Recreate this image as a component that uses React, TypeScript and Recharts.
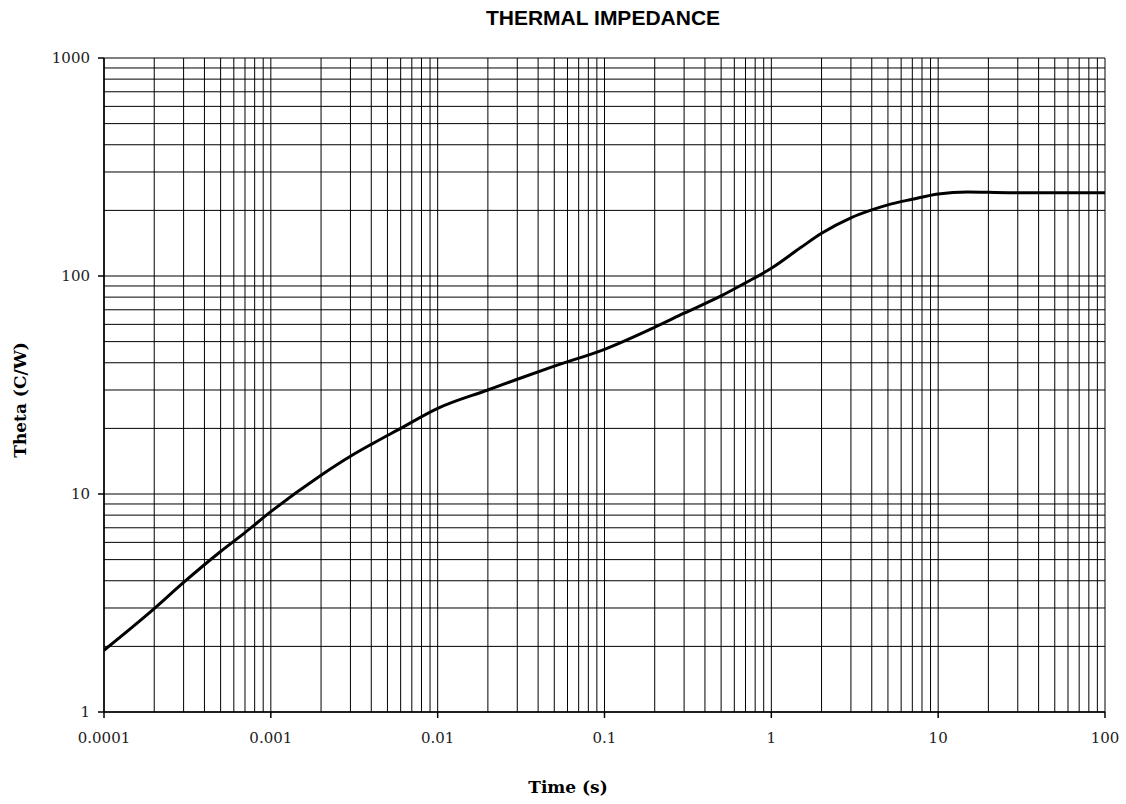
import { LineChart, Line, XAxis, YAxis, ReferenceLine } from 'recharts'

// transient thermal impedance, log-log
const timeS = [0.0001, 0.0002, 0.0003, 0.0005, 0.0007, 0.001, 0.002, 0.003, 0.004, 0.006, 0.01, 0.02, 0.03, 0.05, 0.1, 0.2, 0.3, 0.5, 0.7, 1, 1.5, 2, 3, 4, 5, 7, 10, 15, 20, 30, 50, 100]
const thetaCW = [1.92, 2.98, 3.93, 5.45, 6.65, 8.3, 12.2, 14.9, 16.9, 20.0, 24.7, 30.0, 33.6, 38.6, 46.1, 58.2, 67.5, 81, 93, 108.5, 135, 157, 185, 201, 212, 225, 238, 243, 242, 241, 241, 241]

const timeTicks = [0.0001, 0.001, 0.01, 0.1, 1, 10, 100]
const thetaTicks = [1, 10, 100, 1000]

const data = timeS.map((t, i) => ({ t, theta: thetaCW[i] }))

// 2..9 inside every decade, plus the decade lines themselves
const logGrid = (decades: number[]) =>
  decades.flatMap((d, i) => (i === decades.length - 1 ? [d] : [1, 2, 3, 4, 5, 6, 7, 8, 9].map(m => +(m * d).toPrecision(3))))

const xGrid = logGrid(timeTicks)
const yGrid = logGrid(thetaTicks)

const W = 1126
const H = 804
const serif = '"DejaVu Serif", serif'

export default function App() {
  return (
    <div style={{ position: 'absolute', left: 0, top: 0, width: W, height: H, background: '#fff' }}>
      <LineChart width={W} height={H} data={data} margin={{ top: 58, right: 21, bottom: 52, left: 0 }}>
        <XAxis
          dataKey="t"
          type="number"
          scale="log"
          domain={[0.0001, 100]}
          ticks={timeTicks}
          allowDataOverflow
          height={40}
          tickSize={6}
          tickMargin={14}
          stroke="#000"
          strokeWidth={1.5}
          tick={{ fill: '#222', fontSize: 15, fontFamily: serif }}
          tickFormatter={v => String(v)}
        />
        <YAxis
          type="number"
          scale="log"
          domain={[1, 1000]}
          ticks={thetaTicks}
          allowDataOverflow
          width={104}
          tickSize={6}
          tickMargin={8}
          stroke="#000"
          strokeWidth={1.5}
          tick={{ fill: '#222', fontSize: 15, fontFamily: serif }}
        />
        {xGrid.map(v => (
          <ReferenceLine key={'x' + v} x={v} stroke="#000" strokeWidth={1} />
        ))}
        {yGrid.map(v => (
          <ReferenceLine key={'y' + v} y={v} stroke="#000" strokeWidth={1} />
        ))}
        <Line
          dataKey="theta"
          type="monotone"
          stroke="#000"
          strokeWidth={3}
          dot={false}
          activeDot={false}
          isAnimationActive={false}
        />
      </LineChart>
      <svg width={W} height={H} style={{ position: 'absolute', left: 0, top: 0, pointerEvents: 'none' }}>
        <text x={603} y={25} textAnchor="middle" fontFamily='"Liberation Sans", Arial, sans-serif' fontWeight="bold" fontSize={21} fill="#000">
          THERMAL IMPEDANCE
        </text>
        <text x={568} y={793} textAnchor="middle" fontFamily={serif} fontWeight="bold" fontSize={17} fill="#000">
          Time (s)
        </text>
        <text transform="translate(26 400) rotate(-90)" textAnchor="middle" fontFamily={serif} fontWeight="bold" fontSize={17} fill="#000">
          Theta (C/W)
        </text>
      </svg>
    </div>
  )
}
